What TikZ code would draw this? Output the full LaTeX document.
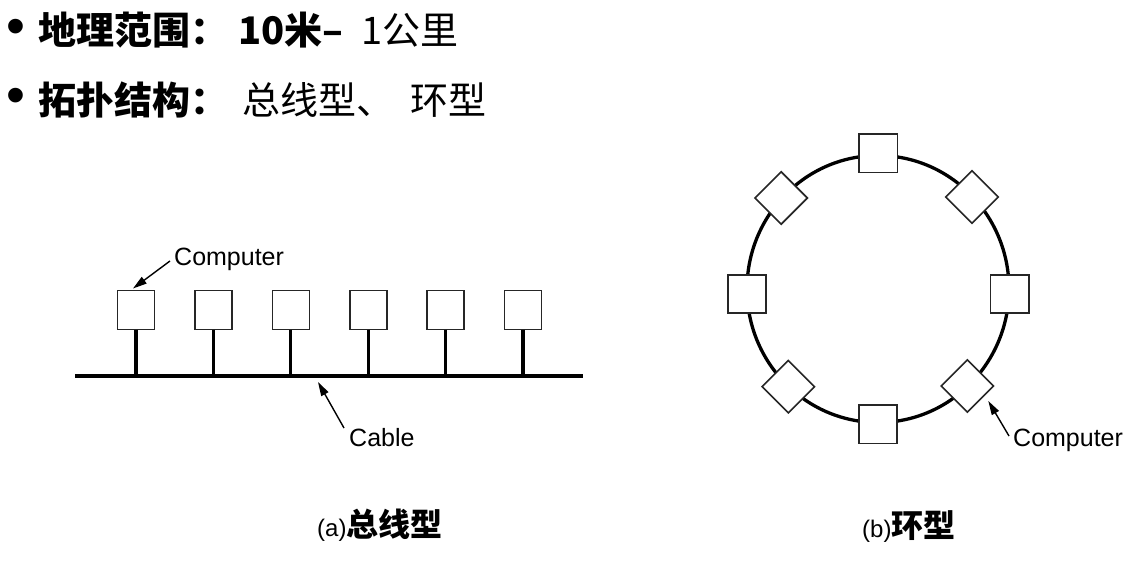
\documentclass[tikz,border=0pt]{standalone}
\usepackage{fontspec}
\setmainfont{Liberation Sans}
\newfontfamily\cjk{Noto Sans CJK SC}
\usetikzlibrary{arrows.meta,calc}
\begin{document}
\begin{tikzpicture}[x=1pt,y=-1pt,
  pc/.style={draw=black!85, line width=1.6pt, fill=white, minimum width=37pt, minimum height=39pt, inner sep=0pt, outer sep=0pt},
  rpc/.style={pc, minimum width=38.4pt, minimum height=38.4pt},
  dpc/.style={pc, minimum width=37pt, minimum height=37pt, rotate=45},
  wire/.style={line width=3.3pt},
  ptr/.style={line width=1.4pt, -{Triangle[length=14pt,width=8pt]}},
  lbl/.style={font=\fontsize{25}{25}\selectfont, inner sep=0pt, anchor=west},
  ttl/.style={font=\cjk\fontsize{38}{38}\selectfont, inner sep=0pt, anchor=west},
  bul/.style={font=\fontsize{54}{54}\selectfont, inner sep=0pt},
  captxt/.style={inner sep=0pt, anchor=west},
]
\useasboundingbox (0,0) rectangle (1142,564);
% title
\node[bul] (u1) at (16,32) {•};
\node[ttl] (t1) at (38,30) {\bfseries 地理范围：\hspace{10pt}10米–\mdseries\hspace{18pt}1公里};
\node[bul] (u2) at (16,101) {•};
\node[ttl] (t2) at (38,100) {\bfseries 拓扑结构：\mdseries\hspace{14pt}总线型、\hspace{16pt}环型};
% bus
\coordinate (cl) at (75,376);
\coordinate (cr) at (583,376);
\draw[wire, line width=3.5pt] (cl) -- (cr);
\foreach \i/\x in {1/136,2/213.4,3/290.8,4/368.2,5/445.6,6/523}{
  \node[pc] (b\i) at (\x,310) {};
  \draw[wire] (b\i.south) -- (b\i.south |- cl);
}
\node[lbl] (lc1) at (174,259) {Computer};
\draw[ptr] ($(lc1.west)+(-4,2)$) -- ($(b1.north)+(-3,-2)$);
\node[lbl] (lcab) at (349,438) {Cable};
\coordinate (ctip) at (318,382);
\draw[ptr] ($(lcab.west)+(-5,-10)$) -- (ctip);
\node[captxt] (capa) at (317,525) {{\fontsize{24}{24}\selectfont (a)}{\cjk\bfseries\fontsize{32}{32}\selectfont 总线型}};
% ring
\coordinate (rc) at (878,289);
\draw[wire] (rc) ellipse [x radius=131pt, y radius=133.5pt];
\node[rpc] (r1) at (878.3,153.3) {};
\node[rpc] (r2) at (1009.7,294) {};
\node[rpc] (r3) at (878,424.3) {};
\node[rpc] (r4) at (747,294) {};
\node[dpc] (d1) at (972,197) {};
\node[dpc] (d2) at (967.3,386) {};
\node[dpc] (d3) at (788.3,386.7) {};
\node[dpc] (d4) at (781.2,198) {};
\node[lbl] (lc2) at (1013,440) {Computer};
\draw[ptr] ($(lc2.west)+(-4,-4)$) -- ($(d2.center)+(21,15)$);
\node[captxt] (capb) at (862,527) {{\fontsize{24}{24}\selectfont (b)}{\cjk\bfseries\fontsize{32}{32}\selectfont 环型}};
\end{tikzpicture}
\end{document}
